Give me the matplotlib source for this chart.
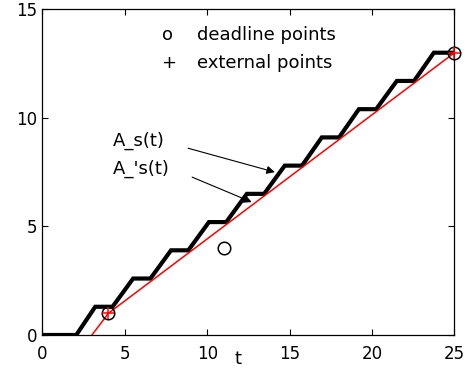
import matplotlib
matplotlib.use("Agg")
import matplotlib.pyplot as plt

# Staircase A_s(t) vertices
stair_t = [0, 2.05, 3.2, 4.25, 5.5, 6.55, 7.8, 8.85, 10.1, 11.15, 12.4, 13.45,
           14.7, 15.75, 16.95, 18.0, 19.2, 20.25, 21.5, 22.55, 23.75, 25]
stair_y = [0, 0, 1.3, 1.3, 2.6, 2.6, 3.9, 3.9, 5.2, 5.2, 6.5, 6.5,
           7.8, 7.8, 9.1, 9.1, 10.4, 10.4, 11.7, 11.7, 13, 13]

# Red line A'_s(t)
red_t = [3, 4, 25]
red_y = [0, 1, 13]

# deadline points (circles) and external points (plus)
dead_t = [4, 11, 25]
dead_y = [1, 4, 13]
ext_t = [4, 25]
ext_y = [1, 13]

xticks = [0, 5, 10, 15, 20, 25]
yticks = [0, 5, 10, 15]

plt.rcParams['font.family'] = ['DejaVu Sans']

fig = plt.figure(figsize=(4.69, 3.70), dpi=100)
ax = fig.add_axes([0.0906, 0.0946, 0.969 - 0.0906, 0.9749 - 0.0946])

ax.plot(stair_t, stair_y, color='black', lw=3.0, solid_joinstyle='miter', zorder=3)
ax.plot(red_t, red_y, color='red', lw=1.1, zorder=4)
ax.plot(dead_t, dead_y, 'o', mfc='none', mec='black', ms=9, mew=1.1, zorder=5,
        clip_on=False)
ax.plot(ext_t, ext_y, '+', color='red', ms=9, mew=1.1, zorder=6, clip_on=False)

ax.set_xlim(0, 25)
ax.set_ylim(0, 15)
ax.set_xticks(xticks)
ax.set_yticks(yticks)
ax.tick_params(direction='in', length=4, width=0.8, top=True, right=True,
               labelsize=12)
ax.tick_params(axis='x', pad=7)
ax.tick_params(axis='y', pad=4)
for s in ax.spines.values():
    s.set_linewidth(0.9)

ax.set_xlabel('t', fontsize=13)
ax.xaxis.label.set_va('baseline')
ax.xaxis.set_label_coords(0.475, -0.088)

# legend-like text
ax.text(7.25, 13.58, 'o', fontsize=13, va='baseline')
ax.text(9.38, 13.58, 'deadline points', fontsize=13, va='baseline')
ax.text(7.2, 12.3, '+', fontsize=13, va='baseline')
ax.text(9.38, 12.3, 'external points', fontsize=13, va='baseline')

# annotations
ax.text(4.25, 8.93, 'A_s(t)', fontsize=13, va='center')
ax.text(4.28, 7.64, "A_'s(t)", fontsize=13, va='center')
ax.annotate('', xy=(14.1, 7.5), xytext=(8.84, 8.6),
            arrowprops=dict(arrowstyle='-|>', lw=0.8, color='black',
                            mutation_scale=12, shrinkA=0, shrinkB=0))
ax.annotate('', xy=(12.7, 6.12), xytext=(9.08, 7.27),
            arrowprops=dict(arrowstyle='-|>', lw=0.8, color='black',
                            mutation_scale=12, shrinkA=0, shrinkB=0))

fig.savefig('out.png', dpi=100)
